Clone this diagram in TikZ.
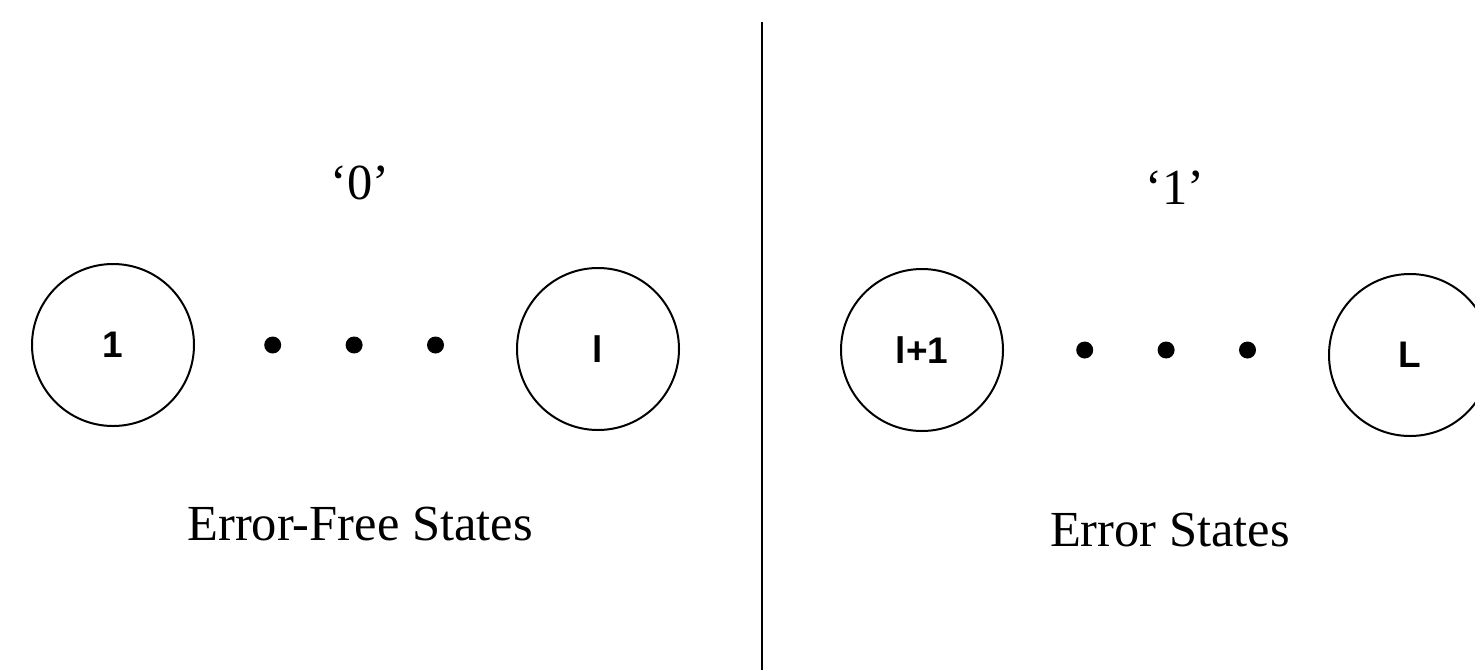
\documentclass[tikz,border=0pt]{standalone}
\usepackage{fontspec}
\setmainfont{Liberation Serif}
\newfontfamily\statefont{Liberation Sans}
\usetikzlibrary{positioning}
\tikzset{
  statenode/.style={draw=black, line width=2pt, circle, minimum size=162pt, inner sep=0pt, font=\statefont\bfseries\fontsize{37}{44}\selectfont},
  dotnode/.style={circle, fill=black, minimum size=17pt, inner sep=0pt},
  caption/.style={font=\fontsize{50.5}{58}\selectfont},
  divline/.style={line width=2.2pt}
}
\begin{document}
\begin{tikzpicture}[x=1pt, y=-1pt]
\clip (0,0) rectangle (1475,670);
\useasboundingbox (0,0) rectangle (1475,670);
% error-free side
\node[statenode] (s1) at (113,345) {1};
\node[dotnode, right=69pt of s1] (d1) {};
\node[dotnode, right=64pt of d1] (d2) {};
\node[dotnode, right=64pt of d2] (d3) {};
\node[statenode] (sl) at (598,349) {l};
\node[caption] (zero) at (360,183) {‘0’};
\node[caption] (efree) at (360,524) {Error-Free States};
% error side
\node[statenode] (sl1) at (922,350) {l+1};
\node[dotnode, right=72pt of sl1] (e1) {};
\node[dotnode, right=64pt of e1] (e2) {};
\node[dotnode, right=64pt of e2] (e3) {};
\node[statenode] (sL) at (1410,355) {L};
\node[caption] (one) at (1175,188) {‘1’};
\node[caption] (err) at (1170,530) {Error States};
% divider
\coordinate (top) at (762,22);
\coordinate (bot) at (762,670);
\draw[divline] (top) -- (bot);
\end{tikzpicture}
\end{document}
